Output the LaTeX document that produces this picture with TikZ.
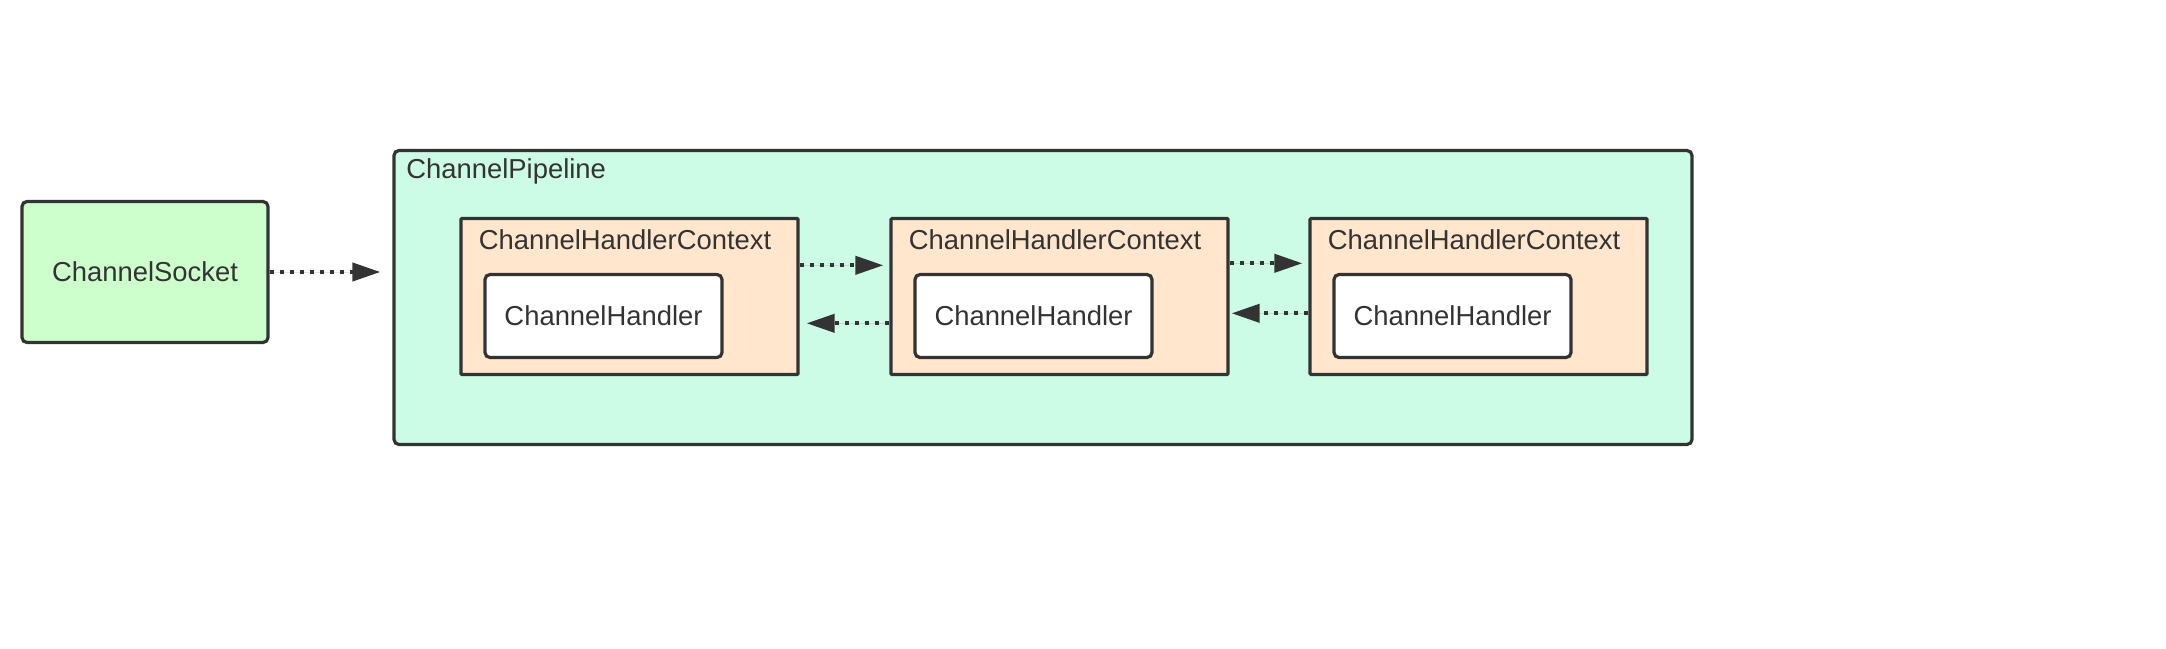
\documentclass[tikz,border=0pt]{standalone}
\usepackage{fontspec}
\setmainfont{Liberation Sans}
\usepackage{tikz}
\usetikzlibrary{
  arrows.meta,
  calc,
  positioning
}
\usepackage{xcolor}
\definecolor{fillSock}{HTML}{CCFFCC}
\definecolor{fillPipe}{HTML}{CCFCE6}
\definecolor{fillCtx}{HTML}{FFE6CC}
\definecolor{edgegray}{HTML}{333333}
\tikzset{
  % Boxes
  sockbox/.style    = {draw=edgegray, line width=1.6pt, fill=fillSock, rounded corners=2.5pt,
                       minimum width=123pt, minimum height=70.5pt, inner sep=0pt},
  pipebox/.style    = {draw=edgegray, line width=1.6pt, fill=fillPipe, rounded corners=2.5pt,
                       minimum width=649pt, minimum height=147pt, inner sep=0pt},
  ctxbox/.style     = {draw=edgegray, line width=1.6pt, fill=fillCtx, rounded corners=0.5pt,
                       minimum width=168.5pt, minimum height=78pt, inner sep=0pt},
  handlerbox/.style = {draw=edgegray, line width=1.6pt, fill=white, rounded corners=2.5pt,
                       minimum width=118.5pt, minimum height=41.5pt, inner sep=0pt},
  % Labels
  lab/.style        = {font=\fontsize{13.7}{16}\selectfont, text=edgegray, inner sep=0pt},
  % Dotted arrows
  flow/.style       = {-{Triangle[length=14pt, width=9pt]}, draw=edgegray, fill=edgegray,
                       line width=2pt, dash pattern=on 2.2pt off 2.8pt},
}

\begin{document}
\begin{tikzpicture}[x=0.5pt, y=-0.5pt]
  \useasboundingbox (0,-1.5) rectangle (2166,646.5);
  % Socket and pipeline
  \node[sockbox] (sock) at (145,270.5) {};
  \node[lab] (socklab) at (sock.center) {ChannelSocket};
  \node[pipebox] (pipe) at (1043,296) {};
  \node[lab, anchor=base west] (pipelab) at (406,177) {ChannelPipeline};
  % Contexts with their handlers
  \foreach \i/\cx in {1/629.5, 2/1059.5, 3/1478.5} {
    \node[ctxbox] (ctx\i) at (\cx,295) {};
    \node[lab, anchor=base west] (ctxlab\i) at ($(ctx\i.north west)+(19,32.5)$) {ChannelHandlerContext};
    \node[handlerbox] (hdl\i) at ($(ctx\i.center)+(-26,19.5)$) {};
    \node[lab] (hdllab\i) at (hdl\i.center) {ChannelHandler};
  }
  % Arrows
  \draw[flow, shorten >=6pt] (sock.east) -- (sock.east -| pipe.west);
  \draw[flow, shorten >=3pt] ([yshift=-24.2pt]ctx1.north east) -- ([yshift=-24.2pt]ctx2.north west);
  \draw[flow, shorten >=3.5pt] ([yshift=-53.2pt]ctx2.north west) -- ([yshift=-53.2pt]ctx1.north east);
  \draw[flow, shorten >=3pt] ([yshift=-23.2pt]ctx2.north east) -- ([yshift=-23.2pt]ctx3.north west);
  \draw[flow, shorten >=1pt] ([yshift=-48.2pt]ctx3.north west) -- ([yshift=-48.2pt]ctx2.north east);
\end{tikzpicture}
\end{document}
